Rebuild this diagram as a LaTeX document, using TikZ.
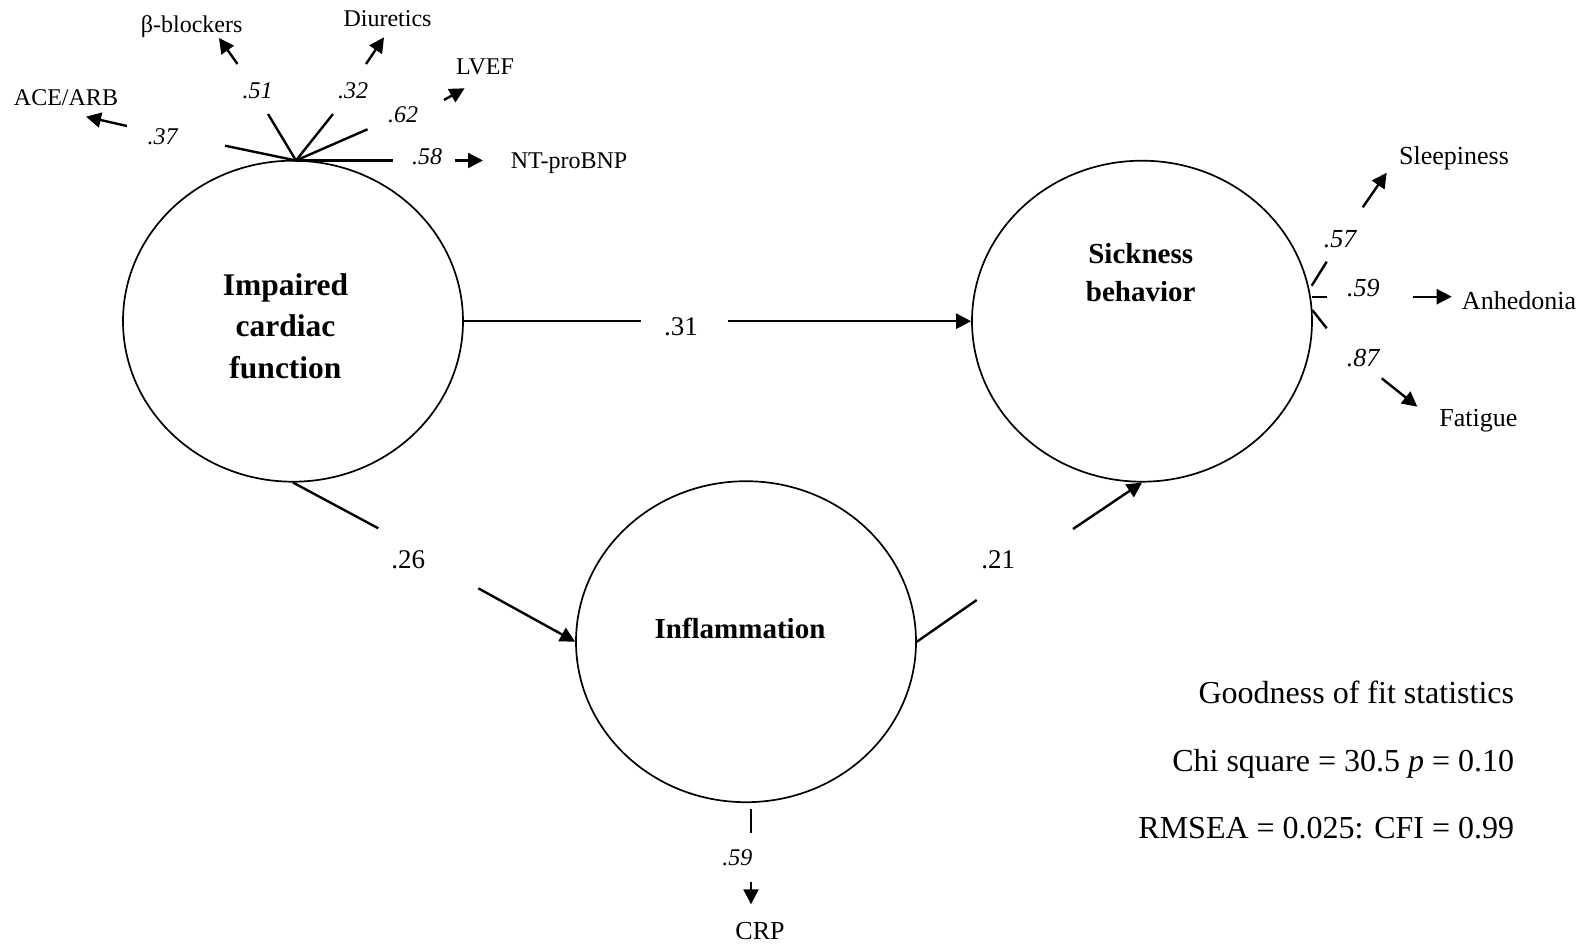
\documentclass[tikz,border=0pt]{standalone}
\usepackage{fontspec}
\setmainfont{Liberation Serif}
\usetikzlibrary{shapes.geometric,arrows.meta}
\begin{document}
\begin{tikzpicture}[x=1pt,y=-1pt,
  lat/.style={draw, ellipse, line width=1.7pt, minimum width=340pt, minimum height=321pt, inner sep=0pt},
  conn/.style={line width=2.4pt},
  arr/.style={conn,-{Triangle[length=15pt,width=15pt]}},
  latname/.style={font=\fontsize{29}{34}\selectfont\bfseries, anchor=base, inner sep=0pt},
  latnameA/.style={font=\fontsize{31.5}{36}\selectfont\bfseries, anchor=base, inner sep=0pt},
  ind/.style={font=\fontsize{24}{28}\selectfont, inner sep=0pt},
  indR/.style={font=\fontsize{26}{30}\selectfont, inner sep=0pt},
  load/.style={font=\fontsize{24}{28}\selectfont\itshape, inner sep=0pt},
  loadR/.style={font=\fontsize{26}{30}\selectfont\itshape, inner sep=0pt},
  path/.style={font=\fontsize{27}{32}\selectfont, inner sep=0pt},
  stat/.style={font=\fontsize{32}{38}\selectfont, anchor=base east, inner sep=0pt}
]
\useasboundingbox (0,0) rectangle (1584,947);

% latent variables
\node[lat] (A) at (293,321.2) {};
\node[lat] (S) at (1142,321.2) {};
\node[lat] (I) at (746,641.7) {};

\node[latnameA] (A1) at (285.5,295) {Impaired};
\node[latnameA] (A2) at (285.5,336) {cardiac};
\node[latnameA] (A3) at (285.5,378) {function};
\node[latname] (S1) at (1140.7,263.3) {Sickness};
\node[latname] (S2) at (1140.7,301.7) {behavior};
\node[latname] (I1) at (740,638.3) {Inflammation};

% structural paths
\coordinate (p26a) at (378.3,528.3);
\coordinate (p26b) at (478.3,588.3);
\node[path] (l26) at (408.3,559.3) {.26};
\draw[conn] (A.south) -- (p26a);
\draw[arr] (p26b) -- (I.west);

\coordinate (p31a) at (641,321.2);
\coordinate (p31b) at (728,321.2);
\node[path] (l31) at (681,326.7) {.31};
\draw[conn] (A.east) -- (p31a);
\draw[arr] (p31b) -- (S.west);

\coordinate (p21a) at (976.7,600);
\coordinate (p21b) at (1073,529);
\node[path] (l21) at (998.3,560) {.21};
\draw[conn] (I.east) -- (p21a);
\draw[arr] (p21b) -- (S.south);

% cardiac indicators
\coordinate (J) at (296,160.5);
\coordinate (a1) at (225,145.7);
\coordinate (a2) at (127,126);
\coordinate (a3) at (86,116.7);
\coordinate (b1) at (268,114);
\coordinate (b2) at (237.5,64);
\coordinate (b3) at (219,38);
\coordinate (c1) at (333,114);
\coordinate (c2) at (366,64);
\coordinate (c3) at (384,37.3);
\coordinate (d1) at (367.5,129.3);
\coordinate (d2) at (444,100);
\coordinate (d3) at (464.6,88.3);
\coordinate (e1) at (392.5,160.5);
\coordinate (e2) at (455,160.5);
\coordinate (e3) at (483,160.5);

\draw[conn] (J) -- (a1);
\draw[conn] (J) -- (b1);
\draw[conn] (J) -- (c1);
\draw[conn] (J) -- (d1);
\draw[conn] (J) -- (e1);
\draw[arr] (a2) -- (a3);
\draw[arr] (b2) -- (b3);
\draw[arr] (c2) -- (c3);
\draw[arr] (d2) -- (d3);
\draw[arr] (e2) -- (e3);

\node[load] (la) at (162.5,136.7) {.37};
\node[load] (lb) at (257.5,90.7) {.51};
\node[load] (lc) at (353,90.7) {.32};
\node[load] (ld) at (403,115) {.62};
\node[load] (le) at (427,157) {.58};

\node[ind] (ACE) at (66,98) {ACE/ARB};
\node[ind] (BB) at (191.7,26.7) {β-blockers};
\node[ind] (DIU) at (387.5,19) {Diuretics};
\node[ind] (LVEF) at (485,67) {LVEF};
\node[ind] (BNP) at (569,163.5) {NT-proBNP};

% sickness indicators
\coordinate (s1) at (1311.7,285.7);
\coordinate (s2) at (1326.7,261.7);
\coordinate (s3) at (1362.7,207.3);
\coordinate (s4) at (1386.7,172.7);
\coordinate (h1) at (1312.3,296.7);
\coordinate (h2) at (1326.7,296.7);
\coordinate (h3) at (1412.7,296.7);
\coordinate (h4) at (1451.7,296.7);
\coordinate (f1) at (1312.3,310);
\coordinate (f2) at (1326.7,328.3);
\coordinate (f3) at (1381.7,378.3);
\coordinate (f4) at (1417.3,406.7);

\draw[conn] (s1) -- (s2);
\draw[arr] (s3) -- (s4);
\draw[conn] (h1) -- (h2);
\draw[arr] (h3) -- (h4);
\draw[conn] (f1) -- (f2);
\draw[arr] (f3) -- (f4);

\node[loadR] (ls) at (1340,239.3) {.57};
\node[loadR] (lh) at (1363.3,288.3) {.59};
\node[loadR] (lf) at (1363,358.3) {.87};

\node[indR] (SLP) at (1454,158) {Sleepiness};
\node[indR] (ANH) at (1519,301) {Anhedonia};
\node[indR] (FAT) at (1478.3,421) {Fatigue};

% inflammation indicator
\coordinate (r1) at (751,809.3);
\coordinate (r2) at (751,832.7);
\coordinate (r3) at (751,881.7);
\coordinate (r4) at (751,904.3);
\draw[conn] (r1) -- (r2);
\draw[arr] (r3) -- (r4);
\node[load] (lr) at (737.3,857.3) {.59};
\node[indR] (CRP) at (760,931) {CRP};

% fit statistics
\node[stat] (g1) at (1514.3,703) {Goodness of fit statistics};
\node[stat] (g2) at (1514.3,771) {Chi square = 30.5 \textit{p} = 0.10};
\node[stat] (g3) at (1514.3,838.3) {RMSEA = 0.025: CFI = 0.99};
\end{tikzpicture}
\end{document}
